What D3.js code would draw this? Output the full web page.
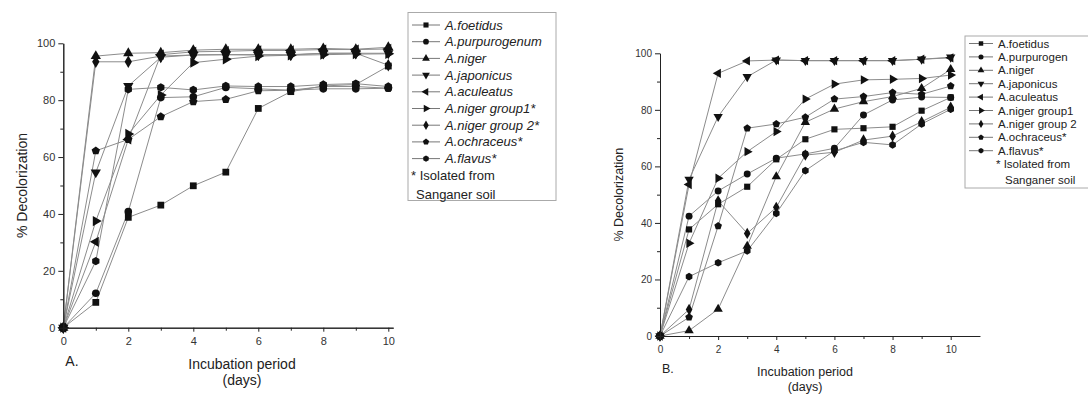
<!DOCTYPE html>
<html>
<head>
<meta charset="utf-8">
<script src="https://cdn.jsdelivr.net/npm/d3@7"></script>
<style>
  body { margin: 0; background: #fff; }
  svg { display: block; font-family: "Liberation Sans", Arial, sans-serif; }
</style>
</head>
<body>
<svg id="chart" width="1088" height="394"></svg>
<script>
// incubation days
const days = [0, 1, 2, 3, 4, 5, 6, 7, 8, 9, 10];

// legend labels (panel A uses longer name for purpurogenum)
const namesA = ["A.foetidus", "A.purpurogenum", "A.niger", "A.japonicus", "A.aculeatus",
  "A.niger group1*", "A.niger group 2*", "A.ochraceus*", "A.flavus*"];
const namesB = ["A.foetidus", "A.purpurogen", "A.niger", "A.japonicus", "A.aculeatus",
  "A.niger group1", "A.niger group 2", "A.ochraceus*", "A.flavus*"];
const footnote = ["* Isolated from", "Sanganer soil"];

// panel A - % decolorization
const foetidusA   = [0, 8.9, 38.8, 43.1, 49.9, 54.7, 77.1, 83.0, 85.0, 85.5, 92.0];
const purpurA     = [0, 12.1, 40.8, 80.9, 81.2, 84.5, 84.0, 83.5, 84.0, 84.0, 84.2];
const nigerA      = [0, 95.5, 96.5, 96.7, 97.6, 97.9, 97.9, 97.9, 98.2, 97.9, 98.6];
const japonicusA  = [0, 54.6, 85.0, 95.1, 95.9, 96.0, 95.9, 95.9, 96.5, 96.5, 96.5];
const aculeatusA  = [0, 30.2, 66.2, 96.0, 97.0, 97.2, 97.5, 97.5, 97.8, 97.8, 98.0];
const nigerG1A    = [0, 37.5, 68.1, 81.8, 93.2, 94.4, 95.5, 95.8, 96.0, 96.2, 96.3];
const nigerG2A    = [0, 93.5, 93.5, 95.5, 95.9, 96.0, 96.0, 96.0, 96.5, 96.5, 92.3];
const ochraceusA  = [0, 62.2, 66.2, 74.2, 79.5, 80.3, 83.3, 83.5, 84.8, 84.8, 84.2];
const flavusA     = [0, 23.4, 83.8, 84.5, 83.6, 85.0, 84.8, 84.8, 85.5, 85.8, 84.8];

// panel B - % decolorization
const foetidusB   = [0, 37.7, 46.6, 52.8, 62.5, 69.6, 73.1, 73.5, 74.0, 79.7, 84.4];
const purpurB     = [0, 42.4, 51.3, 57.3, 62.9, 64.4, 66.4, 78.2, 83.5, 84.5, 84.4];
const nigerB      = [0, 1.9, 9.5, 31.8, 56.4, 75.6, 80.3, 82.9, 84.7, 87.6, 94.3];
const japonicusB  = [0, 55.4, 77.6, 91.7, 97.6, 97.4, 97.4, 97.4, 97.4, 97.9, 98.6];
const aculeatusB  = [0, 53.6, 92.9, 97.3, 97.6, 97.4, 97.4, 97.4, 97.4, 97.9, 98.4];
const nigerG1B    = [0, 32.8, 55.8, 65.2, 72.3, 83.8, 89.1, 90.6, 90.8, 91.1, 92.3];
const nigerG2B    = [0, 9.4, 47.8, 36.3, 45.5, 64.0, 65.0, 69.3, 70.7, 75.8, 80.9];
const ochraceusB  = [0, 6.6, 38.9, 73.5, 75.0, 77.4, 83.8, 84.7, 86.1, 85.5, 88.4];
const flavusB     = [0, 21.0, 25.9, 30.1, 43.4, 58.5, 65.5, 68.5, 67.6, 75.0, 80.2];

const yTicks = [0, 20, 40, 60, 80, 100];
const xTicks = [0, 2, 4, 6, 8, 10];

// regular polygon symbol type for pentagon / hexagon markers
function polygon(n) {
  return {
    draw(context, size) {
      const r = Math.sqrt(size / (0.5 * n * Math.sin(2 * Math.PI / n)));
      for (let i = 0; i < n; i++) {
        const a = -Math.PI / 2 + i * 2 * Math.PI / n;
        const px = r * Math.cos(a), py = r * Math.sin(a);
        if (i === 0) context.moveTo(px, py); else context.lineTo(px, py);
      }
      context.closePath();
    }
  };
}

// marker type + rotation for each series
const markers = [
  {type: d3.symbolSquare, rot: 0},
  {type: d3.symbolCircle, rot: 0},
  {type: d3.symbolTriangle, rot: 0},
  {type: d3.symbolTriangle, rot: 180},
  {type: d3.symbolTriangle, rot: -90},
  {type: d3.symbolTriangle, rot: 90},
  {type: d3.symbolDiamond, rot: 0},
  {type: polygon(5), rot: 0},
  {type: polygon(6), rot: 0}
];

const svg = d3.select("#chart");

function drawPanel(cfg) {
  const g = svg.append("g");
  const x = d3.scaleLinear().domain([0, cfg.xMax]).range([cfg.x0, cfg.x1]);
  const y = d3.scaleLinear().domain([0, 100]).range([cfg.y0, cfg.y1]);

  // series lines
  const line = d3.line().x((d, i) => x(days[i])).y(d => y(d));
  g.selectAll("path.series").data(cfg.series).join("path")
    .attr("class", "series")
    .attr("d", line)
    .attr("fill", "none")
    .attr("stroke", "#8c8c8c")
    .attr("stroke-width", 1);

  // markers
  cfg.series.forEach((vals, s) => {
    const sym = d3.symbol().type(markers[s].type).size(cfg.mSize);
    g.selectAll(null).data(vals).join("path")
      .attr("d", sym)
      .attr("transform", (d, i) => `translate(${x(days[i])},${y(d)}) rotate(${markers[s].rot})`)
      .attr("fill", "#111");
  });

  // axes
  const axisStyle = sel => {
    sel.select(".domain").attr("stroke", "#222");
    sel.selectAll(".tick line").attr("stroke", "#222");
    sel.selectAll("text").attr("fill", "#333").attr("font-size", cfg.tickFont)
      .attr("font-family", "Liberation Sans, Arial, sans-serif");
  };
  g.append("g").attr("transform", `translate(${cfg.x0},0)`)
    .call(d3.axisLeft(y).tickValues(d3.range(10, 100, 20)).tickSize(3).tickFormat("").tickSizeOuter(0))
    .call(axisStyle);
  g.append("g").attr("transform", `translate(${cfg.x0},0)`)
    .call(d3.axisLeft(y).tickValues(yTicks).tickSize(5).tickPadding(3).tickSizeOuter(0))
    .call(axisStyle);
  g.append("g").attr("transform", `translate(0,${cfg.y0})`)
    .call(d3.axisBottom(x).tickValues(d3.range(1, cfg.xMax, 2)).tickSize(3).tickFormat("").tickSizeOuter(0))
    .call(axisStyle);
  g.append("g").attr("transform", `translate(0,${cfg.y0})`)
    .call(d3.axisBottom(x).tickValues(xTicks).tickSize(4).tickPadding(6).tickSizeOuter(0))
    .call(axisStyle);

  // titles
  g.append("text")
    .attr("transform", `translate(${cfg.yLabelX},${(cfg.y0 + cfg.y1) / 2}) rotate(-90)`)
    .attr("text-anchor", "middle")
    .attr("font-size", cfg.titleFont).attr("fill", "#222")
    .text("% Decolorization");
  const xc = cfg.xTitleX;
  g.append("text").attr("x", xc).attr("y", cfg.y0 + cfg.xTitleDy)
    .attr("text-anchor", "middle").attr("font-size", cfg.titleFont).attr("fill", "#222")
    .text("Incubation period");
  g.append("text").attr("x", xc).attr("y", cfg.y0 + cfg.xTitleDy + cfg.titleFont + 2)
    .attr("text-anchor", "middle").attr("font-size", cfg.titleFont).attr("fill", "#222")
    .text("(days)");
  g.append("text").attr("x", cfg.x0 + 2).attr("y", cfg.y0 + cfg.panelDy)
    .attr("font-size", cfg.titleFont).attr("fill", "#222")
    .text(cfg.panel);

  // legend
  const L = cfg.legend;
  const lg = svg.append("g");
  lg.append("rect").attr("x", L.x).attr("y", L.y).attr("width", L.w).attr("height", L.h)
    .attr("fill", "#fff").attr("stroke", "#aaa").attr("stroke-width", 1);
  cfg.names.forEach((name, s) => {
    const cy = L.y + L.first + s * L.step;
    lg.append("line").attr("x1", L.x + 4).attr("x2", L.x + 4 + L.seg)
      .attr("y1", cy).attr("y2", cy).attr("stroke", "#777");
    lg.append("path")
      .attr("d", d3.symbol().type(markers[s].type).size(L.mSize))
      .attr("transform", `translate(${L.x + 4 + L.seg / 2},${cy}) rotate(${markers[s].rot})`)
      .attr("fill", "#111");
    lg.append("text").attr("x", L.x + L.seg + 9).attr("y", cy + L.font * 0.35)
      .attr("font-size", L.font).attr("font-style", L.italic ? "italic" : "normal")
      .attr("fill", "#222").text(name);
  });
  footnote.forEach((t, k) => {
    lg.append("text").attr("x", L.x + L.noteX[k])
      .attr("y", L.y + L.first + (9 + k) * L.step + L.font * 0.35 + (k ? 2 : 0))
      .attr("font-size", L.font).attr("fill", "#222").text(t);
  });
}

drawPanel({
  panel: "A.",
  series: [foetidusA, purpurA, nigerA, japonicusA, aculeatusA, nigerG1A, nigerG2A, ochraceusA, flavusA],
  names: namesA,
  xMax: 10.15, x0: 63.3, x1: 63.3 + 32.5 * 10.15,
  y0: 327.7, y1: 43.3,
  mSize: 46, tickFont: 11, titleFont: 14,
  yLabelX: 27, xTitleX: 242, xTitleDy: 41, panelDy: 38,
  legend: {x: 408, y: 12.5, w: 148, h: 188, first: 12.5, step: 16.7, seg: 28,
    mSize: 26, font: 13, italic: true, noteX: [3, 8]}
});

drawPanel({
  panel: "B.",
  series: [foetidusB, purpurB, nigerB, japonicusB, aculeatusB, nigerG1B, nigerG2B, ochraceusB, flavusB],
  names: namesB,
  xMax: 11, x0: 660, x1: 660 + 29.07 * 11,
  y0: 336, y1: 53.3,
  mSize: 38, tickFont: 10, titleFont: 12.5,
  yLabelX: 623, xTitleX: 805, xTitleDy: 40, panelDy: 37,
  legend: {x: 965, y: 36, w: 140, h: 152, first: 7.5, step: 13.4, seg: 24,
    mSize: 20, font: 11.5, italic: false, noteX: [31, 40]}
});
</script>
</body>
</html>
